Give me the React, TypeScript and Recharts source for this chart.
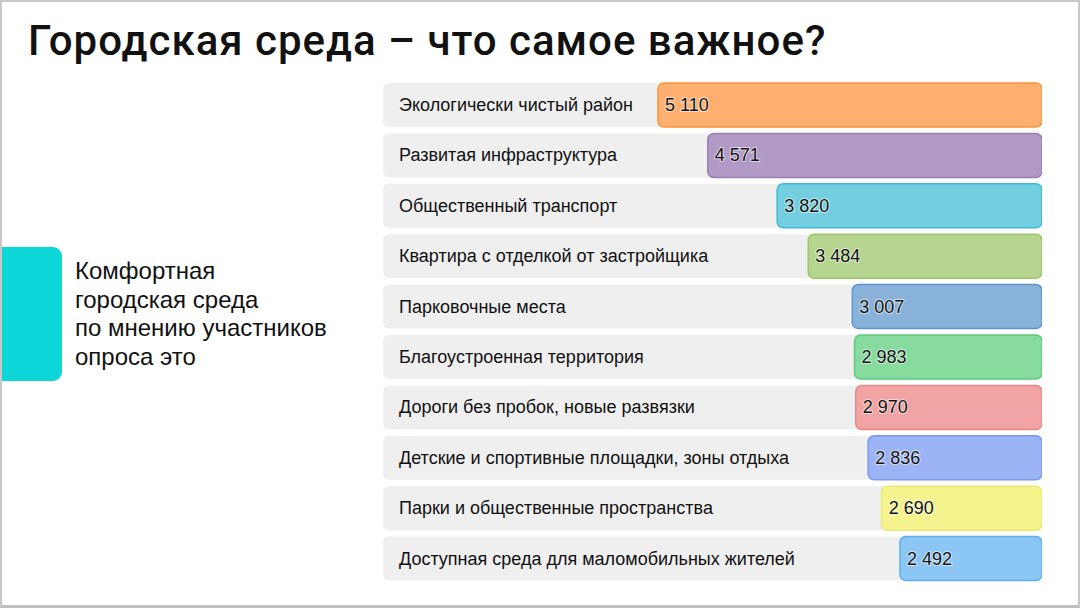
import { BarChart, Bar, XAxis, YAxis, Cell, LabelList } from "recharts";

const categories = [
  "Экологически чистый район",
  "Развитая инфраструктура",
  "Общественный транспорт",
  "Квартира с отделкой от застройщика",
  "Парковочные места",
  "Благоустроенная территория",
  "Дороги без пробок, новые развязки",
  "Детские и спортивные площадки, зоны отдыха",
  "Парки и общественные пространства",
  "Доступная среда для маломобильных жителей",
];

const votes = [5110, 4571, 3820, 3484, 3007, 2983, 2970, 2836, 2690, 2492];

const fills = ["#ffb070", "#b19ac6", "#73cfe0", "#b5d58e", "#88b2da", "#88db9e", "#f2a4a4", "#9cb4f5", "#f5f48e", "#8bc6f5"];
const strokes = ["#f8943a", "#9b7db5", "#3eb8d4", "#9bc56a", "#5e95cc", "#5acb7a", "#e88585", "#7a98ee", "#ebe970", "#5fb0f0"];

const PLOT_LEFT = 383;

const fmt = (v: number) => String(v).replace(/\B(?=(\d{3})+(?!\d))/g, " ");

export default function App() {
  const data = categories.map((name, i) => ({ name, value: votes[i] }));

  return (
    <div
      style={{
        position: "absolute",
        left: 0,
        top: 0,
        width: 1080,
        height: 608,
        background: "#fff",
        boxSizing: "border-box",
        border: "2px solid #c8c8c8",
        borderBottom: "3px solid #c0c0c0",
        overflow: "hidden",
      }}
    >
      <div
        style={{
          position: "absolute",
          left: 26,
          top: 14,
          fontFamily: "Roboto, 'Liberation Sans', sans-serif",
          fontWeight: 500,
          fontSize: 42,
          letterSpacing: 1,
          color: "#111",
          whiteSpace: "nowrap",
        }}
      >
        Городская среда – что самое важное?
      </div>

      <div
        style={{
          position: "absolute",
          left: -2,
          top: 245,
          width: 62,
          height: 134,
          background: "#0dd6d9",
          borderRadius: "0 9px 9px 0",
        }}
      />
      <div
        style={{
          position: "absolute",
          left: 73,
          top: 255,
          fontFamily: "'Liberation Sans', Arial, sans-serif",
          fontSize: 24,
          lineHeight: "28.5px",
          color: "#111",
        }}
      >
        Комфортная
        <br />
        городская среда
        <br />
        по мнению участников
        <br />
        опроса это
      </div>

      <div style={{ position: "absolute", left: -2, top: -2 }}>
        <BarChart
          width={1080}
          height={608}
          data={data}
          layout="vertical"
          margin={{ top: 80, right: 38, bottom: 24, left: PLOT_LEFT }}
          barSize={44}
        >
          <XAxis type="number" hide reversed domain={[955, 8085]} allowDataOverflow />
          <YAxis type="category" dataKey="name" hide />
          <Bar
            dataKey="value"
            isAnimationActive={false}
            radius={6}
            strokeWidth={1.5}
            background={{ fill: "#efefef", radius: 6, stroke: "none" }}
          >
            {data.map((d, i) => (
              <Cell key={d.name} fill={fills[i]} stroke={strokes[i]} />
            ))}
            <LabelList
              dataKey="name"
              content={(p: any) => (
                <text
                  x={PLOT_LEFT + 16}
                  y={Number(p.y) + Number(p.height) / 2}
                  dominantBaseline="central"
                  fontFamily="'Liberation Sans', Arial, sans-serif"
                  fontSize={18}
                  fill="#111"
                >
                  {p.value}
                </text>
              )}
            />
            <LabelList
              dataKey="value"
              content={(p: any) => {
                const x = Number(p.x);
                const w = Number(p.width);
                const left = Math.min(x, x + w);
                return (
                  <text
                    x={left + 7}
                    y={Number(p.y) + Number(p.height) / 2}
                    dominantBaseline="central"
                    fontFamily="'Liberation Sans', Arial, sans-serif"
                    fontSize={18}
                    fill="#111"
                    stroke="#fff"
                    strokeWidth={2}
                    strokeOpacity={0.6}
                    paintOrder="stroke"
                  >
                    {fmt(p.value)}
                  </text>
                );
              }}
            />
          </Bar>
        </BarChart>
      </div>
    </div>
  );
}
